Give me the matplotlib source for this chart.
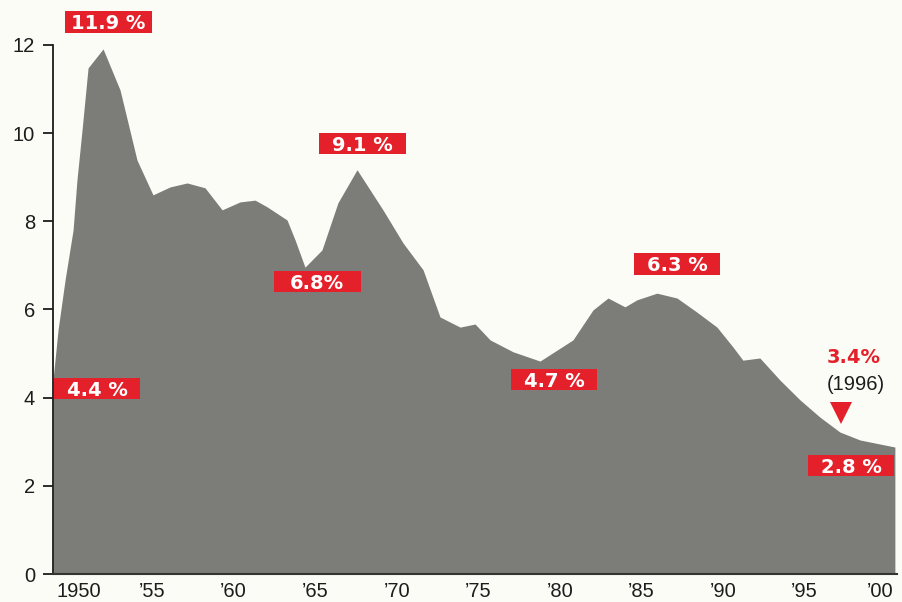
import matplotlib
matplotlib.use("Agg")
import matplotlib.pyplot as plt
from matplotlib.path import Path
from matplotlib.transforms import ScaledTranslation

# ---- data ----
years = [1948.93, 1949.24, 1949.67, 1950.16, 1950.40, 1950.71, 1951.08, 1952.00,
         1953.04, 1954.08, 1955.06, 1956.11, 1957.15, 1958.25, 1959.30, 1960.40,
         1961.32, 1962.05, 1963.28, 1963.77, 1964.38, 1965.42, 1966.40, 1967.57,
         1969.16, 1970.39, 1971.62, 1972.66, 1973.89, 1974.81, 1975.73, 1977.14,
         1978.79, 1980.81, 1982.04, 1982.96, 1984.00, 1984.74, 1985.96, 1987.19,
         1988.41, 1989.64, 1990.62, 1991.23, 1992.27, 1993.50, 1994.73, 1995.95,
         1997.18, 1998.41, 2000.55]
rates = [4.40, 5.54, 6.67, 7.80, 8.94, 10.07, 11.48, 11.91,
         10.98, 9.39, 8.60, 8.78, 8.87, 8.76, 8.26, 8.44,
         8.48, 8.33, 8.03, 7.58, 6.96, 7.35, 8.42, 9.17,
         8.26, 7.51, 6.90, 5.83, 5.60, 5.67, 5.31, 5.04,
         4.83, 5.31, 5.99, 6.26, 6.06, 6.22, 6.37, 6.26,
         5.94, 5.60, 5.15, 4.85, 4.90, 4.40, 3.95, 3.56,
         3.22, 3.04, 2.88]

tick_years = [1950, 1955, 1960, 1965, 1970, 1975, 1980, 1985, 1990, 1995, 2000]
tick_labels = ["1950", "\u201955", "\u201960", "\u201965", "\u201970", "\u201975",
               "\u201980", "\u201985", "\u201990", "\u201995", "\u201900"]
y_ticks = [0, 2, 4, 6, 8, 10, 12]

callout_texts = ["11.9 %", "9.1 %", "6.8%", "4.4 %", "4.7 %", "6.3 %", "2.8 %"]
note_value = "3.4%"
note_year = "(1996)"
note_x = 1997.25
note_marker_y = 3.65

# ---- layout (annotation anchors) ----
callout_anchor = [(1952.31, 12.49), (1967.93, 9.73), (1965.12, 6.60), (1951.63, 4.17),
                  (1979.65, 4.37), (1987.19, 7.00), (1997.86, 2.42)]

BG = "#fcfcf7"
GRAY = "#7c7d78"
RED = "#e4202a"
DARK = "#1c1c1c"

fig = plt.figure(figsize=(9.02, 6.02), dpi=100, facecolor=BG)
ax = fig.add_axes([53 / 902, 28 / 602, 844 / 902, 574 / 602])
ax.set_facecolor(BG)

ax.fill_between(years, rates, 0, color=GRAY, linewidth=0, zorder=1)

ax.set_xlim(1948.93, 2000.68)
ax.set_ylim(0, 13.02)

for s in ("top", "right"):
    ax.spines[s].set_visible(False)
ax.spines["left"].set_bounds(0, 12)
ax.spines["left"].set_color(DARK)
ax.spines["left"].set_linewidth(1.3)
ax.spines["bottom"].set_color("#333333")
ax.spines["bottom"].set_linewidth(1.5)
ax.spines["left"].set_zorder(3)
ax.spines["bottom"].set_zorder(3)

ax.set_yticks(y_ticks)
ax.set_yticklabels([str(v) for v in y_ticks])
ax.tick_params(axis="y", direction="out", length=7.5, width=1.3, pad=5.5,
               colors=DARK, labelsize=14.5)
ax.set_xticks(tick_years)
ax.set_xticklabels(tick_labels)
ax.tick_params(axis="x", length=0, pad=5.5, colors=DARK, labelsize=14.5)
for lab in ax.get_yticklabels() + ax.get_xticklabels():
    lab.set_fontfamily("Liberation Sans")

xl = ax.get_xticklabels()
xl[0].set_transform(xl[0].get_transform() + ScaledTranslation(8 / 100, 0, fig.dpi_scale_trans))
xl[-1].set_transform(xl[-1].get_transform() + ScaledTranslation(-6 / 100, 0, fig.dpi_scale_trans))


def fixed_box(x0, y0, width, height, mutation_size):
    cx = x0 + width / 2.0
    cy = y0 + height / 2.0 + 0.08 * mutation_size
    w = 4.47 * mutation_size
    h = 1.10 * mutation_size
    verts = [(cx - w / 2, cy - h / 2), (cx + w / 2, cy - h / 2),
             (cx + w / 2, cy + h / 2), (cx - w / 2, cy + h / 2),
             (cx - w / 2, cy - h / 2)]
    codes = [Path.MOVETO, Path.LINETO, Path.LINETO, Path.LINETO, Path.CLOSEPOLY]
    return Path(verts, codes)


for txt, (x, y) in zip(callout_texts, callout_anchor):
    ax.text(x, y, txt, ha="center", va="center", color="white",
            fontsize=14, fontweight="bold", family="DejaVu Sans", zorder=5,
            bbox=dict(boxstyle=fixed_box, facecolor=RED, edgecolor="none"),
            clip_on=False)

ax.text(1998.04, 4.92, note_value, ha="center", va="center", color=RED,
        fontsize=14, fontweight="bold", family="DejaVu Sans", zorder=5)
ax.text(1998.16, 4.30, note_year, ha="center", va="center", color=DARK,
        fontsize=14.5, family="Liberation Sans", zorder=5)
ax.plot([note_x], [note_marker_y], marker="v", markersize=16, color=RED,
        markeredgewidth=0, linestyle="none", zorder=5)

fig.savefig("out.png", dpi=100, facecolor=BG)
